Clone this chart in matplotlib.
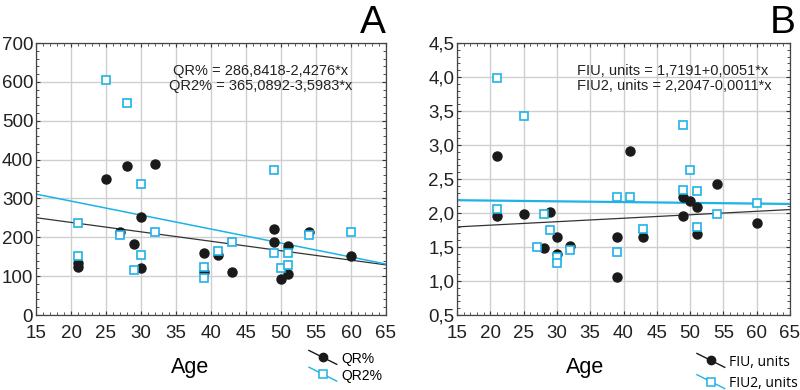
import numpy as np
import matplotlib
matplotlib.use("Agg")
import matplotlib.pyplot as plt
from matplotlib.lines import Line2D
from matplotlib.legend_handler import HandlerLine2D
from matplotlib.ticker import MultipleLocator, FuncFormatter

plt.rcParams['font.family'] = ['Liberation Sans', 'DejaVu Sans']

# --- panel A data (QR%, QR2%) ---
age_qr = [21, 21, 25, 27, 28, 29, 30, 30, 32, 39, 39, 41, 43, 49, 49, 50, 51, 51, 54, 60]
qr = [133, 123, 350, 214, 384, 183, 252, 122, 389, 160, 111, 154, 111, 221, 187, 93, 177, 106, 214, 151]
age_qr2 = [21, 21, 25, 27, 28, 29, 30, 30, 32, 39, 39, 41, 43, 49, 49, 50, 51, 51, 54, 60]
qr2 = [236, 152, 605, 206, 546, 116, 338, 155, 213, 124, 96, 165, 188, 373, 160, 121, 160, 129, 206, 213]
fit_qr = (286.8418, -2.4276)
fit_qr2 = (365.0892, -3.5983)

# --- panel B data (FIU, FIU2) ---
age_fiu = [21, 21, 25, 28, 29, 30, 30, 32, 39, 39, 41, 43, 49, 49, 50, 51, 51, 54, 60]
fiu = [1.95, 2.84, 1.99, 1.48, 2.02, 1.64, 1.39, 1.51, 1.65, 1.06, 2.915, 1.64, 2.24, 1.96, 2.17, 2.09, 1.69, 2.43, 1.86]
age_fiu2 = [21, 21, 25, 27, 28, 29, 30, 30, 32, 39, 39, 41, 43, 49, 49, 50, 51, 51, 54, 60]
fiu2 = [2.06, 3.99, 3.43, 1.50, 1.99, 1.75, 1.36, 1.27, 1.45, 2.24, 1.42, 2.24, 1.77, 3.30, 2.34, 2.63, 2.32, 1.79, 1.99, 2.15]
fit_fiu = (1.7191, 0.0051)
fit_fiu2 = (2.2047, -0.0011)

BLACK = '#1a1a1a'
BLUE = '#1fb2e6'


class DiagHandler(HandlerLine2D):
    """legend handle: diagonal line with marker in the middle"""
    def create_artists(self, legend, orig_handle, xdescent, ydescent,
                       width, height, fontsize, trans):
        x0, x1 = -xdescent, width - xdescent
        y0, y1 = height - ydescent + 2, -ydescent - 1
        line = Line2D([x0, x1], [y0, y1], color=orig_handle.get_color(),
                      lw=orig_handle.get_linewidth(), transform=trans)
        mk = Line2D([(x0 + x1) / 2], [(y0 + y1) / 2], ls='none',
                    marker=orig_handle.get_marker(),
                    markersize=orig_handle.get_markersize(),
                    mfc=orig_handle.get_markerfacecolor(),
                    mec=orig_handle.get_markeredgecolor(),
                    mew=orig_handle.get_markeredgewidth(), transform=trans)
        return [line, mk]


def style_axes(ax, ymin, ymax, ymaj, ymin_step, fmt):
    ax.set_xlim(15, 65)
    ax.set_ylim(ymin, ymax)
    ax.xaxis.set_major_locator(MultipleLocator(5))
    ax.xaxis.set_minor_locator(MultipleLocator(1))
    ax.yaxis.set_major_locator(MultipleLocator(ymaj))
    ax.yaxis.set_minor_locator(MultipleLocator(ymin_step))
    ax.yaxis.set_major_formatter(FuncFormatter(fmt))
    ax.grid(True, which='major', color='#cfcfcf', lw=1.0)
    ax.set_axisbelow(True)
    ax.tick_params(which='both', direction='in', top=True, right=True,
                   color='#333333', labelsize=13.5, labelcolor='#222222')
    ax.tick_params(axis='x', pad=7)
    ax.tick_params(axis='y', pad=2)
    ax.tick_params(which='major', length=3)
    ax.tick_params(which='minor', length=2, width=0.6)
    for s in ax.spines.values():
        s.set_color('#444444')
        s.set_linewidth(0.9)


def plot_panel(ax, xa, ya, xb, yb, fa, fb, blue_lw):
    xs = np.array([15, 65])
    ax.plot(xs, fa[0] + fa[1] * xs, color='#333333', lw=0.9, zorder=2)
    ax.plot(xs, fb[0] + fb[1] * xs, color=BLUE, lw=blue_lw, zorder=2)
    ax.plot(xa, ya, 'o', color=BLACK, ms=6.5, zorder=3)
    ax.plot(xb, yb, 's', mfc='white', mec=BLUE, mew=1.2, ms=6, zorder=4)


fig = plt.figure(figsize=(8, 3.9), dpi=100)
axA = fig.add_axes([36 / 800, 1 - 315 / 390, 350 / 800, 272 / 390])
axB = fig.add_axes([457 / 800, 1 - 315 / 390, 333 / 800, 272 / 390])

plot_panel(axA, age_qr, qr, age_qr2, qr2, fit_qr, fit_qr2, 1.1)
style_axes(axA, 0, 700, 100, 20, lambda v, p: f"{v:.0f}")
axA.text(0.643, 0.87, "QR% = 286,8418-2,4276*x\nQR2% = 365,0892-3,5983*x",
         transform=axA.transAxes, ha='center', va='center', fontsize=10.5,
         linespacing=1.15, color='#222222')

plot_panel(axB, age_fiu, fiu, age_fiu2, fiu2, fit_fiu, fit_fiu2, 1.6)
style_axes(axB, 0.5, 4.5, 0.5, 0.1, lambda v, p: f"{v:.1f}".replace('.', ','))
axB.text(0.36, 0.87, "FIU, units = 1,7191+0,0051*x\nFIU2, units = 2,2047-0,0011*x",
         transform=axB.transAxes, ha='left', va='center', fontsize=10.5,
         linespacing=1.15, color='#222222')

# panel letters and axis titles
fig.text(386 / 800, 1 - 5 / 390, "A", ha='right', va='top', fontsize=28)
fig.text(796 / 800, 1 - 5 / 390, "B", ha='right', va='top', fontsize=28)
fig.text(190 / 800, 1 - 368 / 390, "Age", ha='center', va='center', fontsize=15.5)
fig.text(585 / 800, 1 - 368 / 390, "Age", ha='center', va='center', fontsize=15.5)

# legends
hA = [Line2D([], [], color=BLACK, lw=1, marker='o', ms=6, mfc=BLACK, mec=BLACK),
      Line2D([], [], color=BLUE, lw=1, marker='s', ms=5.5, mfc='white', mec=BLUE, mew=1.1)]
fig.legend(hA, ['QR%', 'QR2%'], loc='upper left',
           bbox_to_anchor=(302 / 800, 1 - 345 / 390), frameon=False,
           fontsize=10, handlelength=2.0, handletextpad=0.3,
           labelspacing=0.2, borderpad=0,
           handler_map={Line2D: DiagHandler()})
hB = [Line2D([], [], color=BLACK, lw=1, marker='o', ms=6, mfc=BLACK, mec=BLACK),
      Line2D([], [], color=BLUE, lw=1, marker='s', ms=5.5, mfc='white', mec=BLUE, mew=1.1)]
fig.legend(hB, ['FIU, units', 'FIU2, units'], loc='upper left',
           bbox_to_anchor=(690 / 800, 1 - 348 / 390), frameon=False,
           handlelength=2.0, handletextpad=0.3,
           labelspacing=0.45, borderpad=0,
           handler_map={Line2D: DiagHandler()},
           prop={'family': 'Open Sans', 'size': 10})

fig.savefig("out.png", dpi=100)
